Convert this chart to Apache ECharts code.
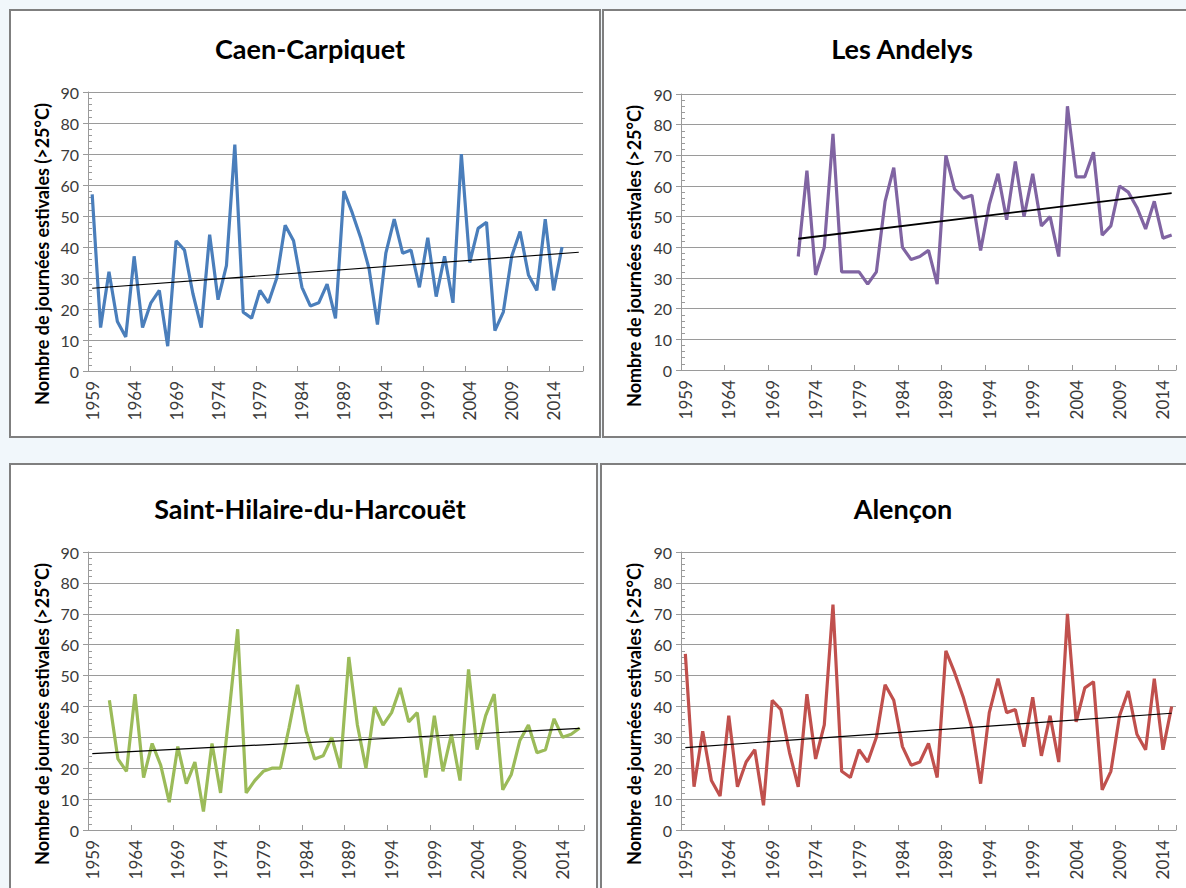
<!DOCTYPE html>
<html>
<head>
<meta charset="utf-8">
<script src="https://cdn.jsdelivr.net/npm/echarts@6/dist/echarts.min.js"></script>
<style>
  html, body { margin: 0; padding: 0; background: #f1f7fb; }
  #chart { width: 1186px; height: 888px; }
</style>
</head>
<body>
<div id="chart"></div>
<script>
// nombre de journées estivales (>25°C) par station
const caenStart = 1959
const caenDays = [57, 14, 32, 16, 11, 37, 14, 22, 26, 8, 42, 39, 25, 14, 44, 23, 34, 73, 19, 17,
  26, 22, 30, 47, 42, 27, 21, 22, 28, 17, 58, 51, 43, 33, 15, 38, 49, 38, 39, 27,
  43, 24, 37, 22, 70, 35, 46, 48, 13, 19, 37, 45, 31, 26, 49, 26, 40]
const caenTrend = [[1959, 26.7], [2017, 38.3]]

const andelysStart = 1972
const andelysDays = [37, 65, 31, 40, 77, 32, 32, 32, 28, 32, 55, 66, 40, 36, 37, 39, 28, 70, 59, 56,
  57, 39, 54, 64, 49, 68, 50, 64, 47, 50, 37, 86, 63, 63, 71, 44, 47, 60, 58, 53,
  46, 55, 43, 44]
const andelysTrend = [[1972, 42.8], [2015, 57.7]]

const hilaireStart = 1961
const hilaireDays = [42, 23, 19, 44, 17, 28, 21, 9, 27, 15, 22, 6, 28, 12, 38, 65, 12, 16, 19, 20,
  20, 33, 47, 32, 23, 24, 30, 20, 56, 34, 20, 40, 34, 38, 46, 35, 38, 17, 37, 19,
  31, 16, 52, 26, 37, 44, 13, 18, 29, 34, 25, 26, 36, 30, 31, 33]
const hilaireTrend = [[1959, 24.7], [2016, 32.9]]

const alenconStart = 1959
const alenconDays = [57, 14, 32, 16, 11, 37, 14, 22, 26, 8, 42, 39, 25, 14, 44, 23, 34, 73, 19, 17,
  26, 22, 30, 47, 42, 27, 21, 22, 28, 17, 58, 51, 43, 33, 15, 38, 49, 38, 39, 27,
  43, 24, 37, 22, 70, 35, 46, 48, 13, 19, 37, 45, 31, 26, 49, 26, 40]
const alenconTrend = [[1959, 26.7], [2015, 37.8]]

const yTicks = [0, 10, 20, 30, 40, 50, 60, 70, 80, 90]
const yName = 'Nombre de journées estivales (>25°C)'

const panels = [
  { title: 'Caen-Carpiquet', lastYear: 2017, start: caenStart, days: caenDays, trend: caenTrend,
    color: '#4a7ebb', trendWidth: 1.2, box: [10, 10, 590, 427], grid: [88, 92, 495, 279], titleAt: [305, 47], nameAt: [42, 254] },
  { title: 'Les Andelys', lastYear: 2015, start: andelysStart, days: andelysDays, trend: andelysTrend,
    color: '#8064a2', trendWidth: 1.8, box: [603, 10, 600, 427], grid: [681, 94, 495, 276], titleAt: [897, 47], nameAt: [634, 256] },
  { title: 'Saint-Hilaire-du-Harcouët', lastYear: 2016, start: hilaireStart, days: hilaireDays, trend: hilaireTrend,
    color: '#9bbb59', trendWidth: 1.2, box: [10, 464, 587, 440], grid: [88, 552, 496, 278], titleAt: [305, 507], nameAt: [42, 714] },
  { title: 'Alençon', lastYear: 2015, start: alenconStart, days: alenconDays, trend: alenconTrend,
    color: '#c0504d', trendWidth: 1.2, box: [601, 464, 600, 440], grid: [681, 552, 495, 278], titleAt: [898, 507], nameAt: [634, 714] }
]

const gridCol = '#9a9a9a'
const labelCol = '#3a3a3a'
const font = 'Lato, "Open Sans", sans-serif'

const option = {
  animation: false,
  title: [],
  grid: [],
  xAxis: [],
  yAxis: [],
  series: [],
  graphic: []
}

panels.forEach((p, i) => {
  const cats = []
  for (let y = 1959; y <= p.lastYear; y++) cats.push(String(y))

  option.title.push({
    text: p.title,
    left: p.titleAt[0],
    top: p.titleAt[1] - 17,
    textAlign: 'center',
    textStyle: { fontFamily: font, fontWeight: 'bold', fontSize: 27, color: '#000' }
  })
  option.grid.push({ left: p.grid[0], top: p.grid[1], width: p.grid[2], height: p.grid[3] })

  option.xAxis.push({
    type: 'category',
    gridIndex: i,
    data: cats,
    boundaryGap: true,
    axisLine: { lineStyle: { color: gridCol, width: 1 } },
    axisTick: { show: true, inside: true, length: 5, interval: 4, lineStyle: { color: gridCol } },
    axisLabel: { interval: 4, rotate: 90, margin: 10, fontFamily: font, fontSize: 17, color: labelCol },
    splitLine: { show: false }
  })
  // axe principal
  option.yAxis.push({
    type: 'value',
    gridIndex: i,
    position: 'left',
    min: yTicks[0],
    max: yTicks[yTicks.length - 1],
    interval: 10,
    axisLine: { show: true, lineStyle: { color: gridCol } },
    axisTick: { show: true, length: 5, lineStyle: { color: gridCol } },
    axisLabel: { margin: 9, fontFamily: font, fontSize: 16, color: labelCol },
    splitLine: { show: true, lineStyle: { color: gridCol, width: 1 } }
  })
  // petites graduations vers l'intérieur
  option.yAxis.push({
    type: 'value',
    gridIndex: i,
    position: 'left',
    min: 0,
    max: 90,
    interval: 2,
    axisLine: { show: false },
    axisTick: { show: true, inside: true, length: 4, lineStyle: { color: gridCol } },
    axisLabel: { show: false },
    splitLine: { show: false }
  })

  const data = p.days.map((v, k) => [String(p.start + k), v])
  option.series.push({
    type: 'line',
    xAxisIndex: i,
    yAxisIndex: i * 2,
    data: data,
    symbol: 'none',
    z: 3,
    lineStyle: { color: p.color, width: 3.2 },
    itemStyle: { color: p.color }
  })
  option.series.push({
    type: 'line',
    xAxisIndex: i,
    yAxisIndex: i * 2,
    data: p.trend.map(t => [String(t[0]), t[1]]),
    symbol: 'none',
    z: 4,
    lineStyle: { color: '#000', width: p.trendWidth }
  })

  option.graphic.push({
    type: 'rect',
    z: -10,
    shape: { x: p.box[0], y: p.box[1], width: p.box[2], height: p.box[3] },
    style: { fill: '#fff', stroke: '#7f7f7f', lineWidth: 2 }
  })
  option.graphic.push({
    type: 'text',
    x: p.nameAt[0],
    y: p.nameAt[1],
    rotation: Math.PI / 2,
    style: { text: yName, fontFamily: font, fontWeight: 'bold', fontSize: 18, fill: '#000', align: 'center', verticalAlign: 'middle' }
  })
})

const chart = echarts.init(document.getElementById('chart'), null, { renderer: 'svg' })
chart.setOption(option)
</script>
</body>
</html>
